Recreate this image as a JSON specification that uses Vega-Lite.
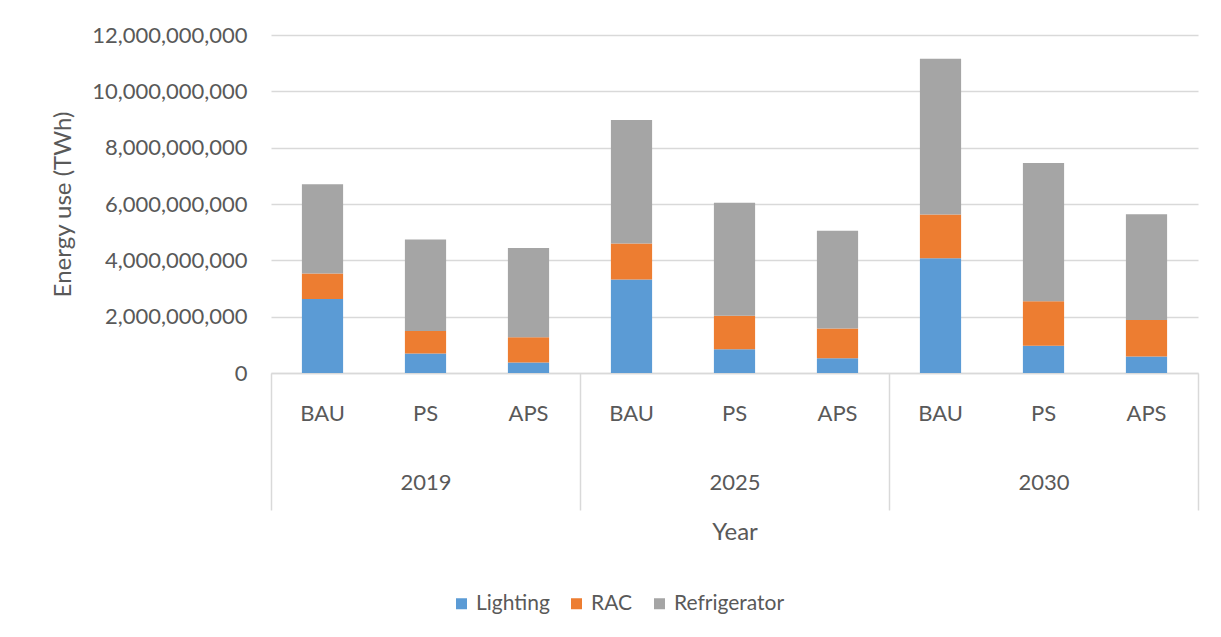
{
  "$schema": "https://vega.github.io/schema/vega-lite/v6.json",
  "width": 927,
  "height": 338,
  "autosize": "none",
  "padding": {"left": 271, "top": 35, "right": 23, "bottom": 264},
  "background": "white",
  "config": {
    "font": "Lato",
    "view": {"stroke": null},
    "axis": {"labelColor": "#595959", "titleColor": "#595959", "labelFont": "Lato", "titleFont": "Lato", "titleFontWeight": "normal"},
    "legend": {"labelColor": "#595959", "labelFont": "Lato"}
  },
  "data": {
    "values": [
      {"Year": "2019", "Scenario": "BAU", "Category": "Lighting", "Value": 2630000000},
      {"Year": "2019", "Scenario": "BAU", "Category": "RAC", "Value": 900000000},
      {"Year": "2019", "Scenario": "BAU", "Category": "Refrigerator", "Value": 3170000000},
      {"Year": "2019", "Scenario": "PS", "Category": "Lighting", "Value": 690000000},
      {"Year": "2019", "Scenario": "PS", "Category": "RAC", "Value": 800000000},
      {"Year": "2019", "Scenario": "PS", "Category": "Refrigerator", "Value": 3250000000},
      {"Year": "2019", "Scenario": "APS", "Category": "Lighting", "Value": 370000000},
      {"Year": "2019", "Scenario": "APS", "Category": "RAC", "Value": 900000000},
      {"Year": "2019", "Scenario": "APS", "Category": "Refrigerator", "Value": 3170000000},
      {"Year": "2025", "Scenario": "BAU", "Category": "Lighting", "Value": 3320000000},
      {"Year": "2025", "Scenario": "BAU", "Category": "RAC", "Value": 1280000000},
      {"Year": "2025", "Scenario": "BAU", "Category": "Refrigerator", "Value": 4380000000},
      {"Year": "2025", "Scenario": "PS", "Category": "Lighting", "Value": 840000000},
      {"Year": "2025", "Scenario": "PS", "Category": "RAC", "Value": 1190000000},
      {"Year": "2025", "Scenario": "PS", "Category": "Refrigerator", "Value": 4010000000},
      {"Year": "2025", "Scenario": "APS", "Category": "Lighting", "Value": 520000000},
      {"Year": "2025", "Scenario": "APS", "Category": "RAC", "Value": 1060000000},
      {"Year": "2025", "Scenario": "APS", "Category": "Refrigerator", "Value": 3470000000},
      {"Year": "2030", "Scenario": "BAU", "Category": "Lighting", "Value": 4070000000},
      {"Year": "2030", "Scenario": "BAU", "Category": "RAC", "Value": 1560000000},
      {"Year": "2030", "Scenario": "BAU", "Category": "Refrigerator", "Value": 5530000000},
      {"Year": "2030", "Scenario": "PS", "Category": "Lighting", "Value": 970000000},
      {"Year": "2030", "Scenario": "PS", "Category": "RAC", "Value": 1580000000},
      {"Year": "2030", "Scenario": "PS", "Category": "Refrigerator", "Value": 4910000000},
      {"Year": "2030", "Scenario": "APS", "Category": "Lighting", "Value": 590000000},
      {"Year": "2030", "Scenario": "APS", "Category": "RAC", "Value": 1290000000},
      {"Year": "2030", "Scenario": "APS", "Category": "Refrigerator", "Value": 3760000000}
    ]
  },
  "transform": [{"calculate": "datum.Year + '|' + datum.Scenario", "as": "Key"}],
  "layer": [
    {
      "mark": {"type": "bar"},
      "encoding": {
        "x": {
          "field": "Key",
          "type": "nominal",
          "scale": {
            "domain": ["2019|BAU", "2019|PS", "2019|APS", "2025|BAU", "2025|PS", "2025|APS", "2030|BAU", "2030|PS", "2030|APS"],
            "paddingInner": 0.6,
            "paddingOuter": 0.3
          },
          "axis": {
            "orient": "bottom",
            "title": null,
            "labelExpr": "split(datum.label, '|')[1]",
            "labelAngle": 0,
            "labelFontSize": 22,
            "labelPadding": 30,
            "ticks": false,
            "domain": true,
            "domainColor": "#d9d9d9",
            "domainWidth": 1.5,
            "grid": false
          }
        },
        "y": {
          "field": "Value",
          "type": "quantitative",
          "aggregate": "sum",
          "stack": "zero",
          "scale": {"domain": [0, 12000000000], "nice": false},
          "axis": {
            "title": "Energy use (TWh)",
            "titleFontSize": 24,
            "titlePadding": 16,
            "values": [0, 2000000000, 4000000000, 6000000000, 8000000000, 10000000000, 12000000000],
            "format": ",.0f",
            "labelFontSize": 22,
            "labelPadding": 24,
            "ticks": false,
            "domain": false,
            "grid": true,
            "gridColor": "#d9d9d9",
            "gridWidth": 1.5
          }
        },
        "color": {
          "field": "Category",
          "type": "nominal",
          "scale": {"domain": ["Lighting", "RAC", "Refrigerator"], "range": ["#5B9BD5", "#ED7D31", "#A5A5A5"]},
          "legend": {
            "title": null,
            "orient": "none",
            "direction": "horizontal",
            "legendX": 180,
            "legendY": 558,
            "symbolType": "square",
            "symbolSize": 121,
            "symbolStrokeWidth": 0,
            "labelFontSize": 21,
            "labelOffset": 4,
            "columnPadding": 16,
            "padding": 0
          }
        },
        "order": {"field": "Category", "sort": "ascending"}
      }
    },
    {
      "mark": {"type": "rule", "opacity": 0},
      "encoding": {
        "x": {
          "field": "Year",
          "type": "ordinal",
          "scale": {"type": "band", "paddingInner": 0, "paddingOuter": 0},
          "axis": {
            "orient": "bottom",
            "title": "Year",
            "titleFontSize": 24,
            "titlePadding": 10,
            "labelAngle": 0,
            "labelFontSize": 22,
            "tickBand": "extent",
            "ticks": true,
            "tickSize": 137,
            "tickColor": "#d9d9d9",
            "tickWidth": 1.5,
            "labelPadding": -38,
            "domain": false,
            "grid": false
          }
        }
      }
    }
  ],
  "resolve": {"scale": {"x": "independent"}, "axis": {"x": "independent"}}
}
